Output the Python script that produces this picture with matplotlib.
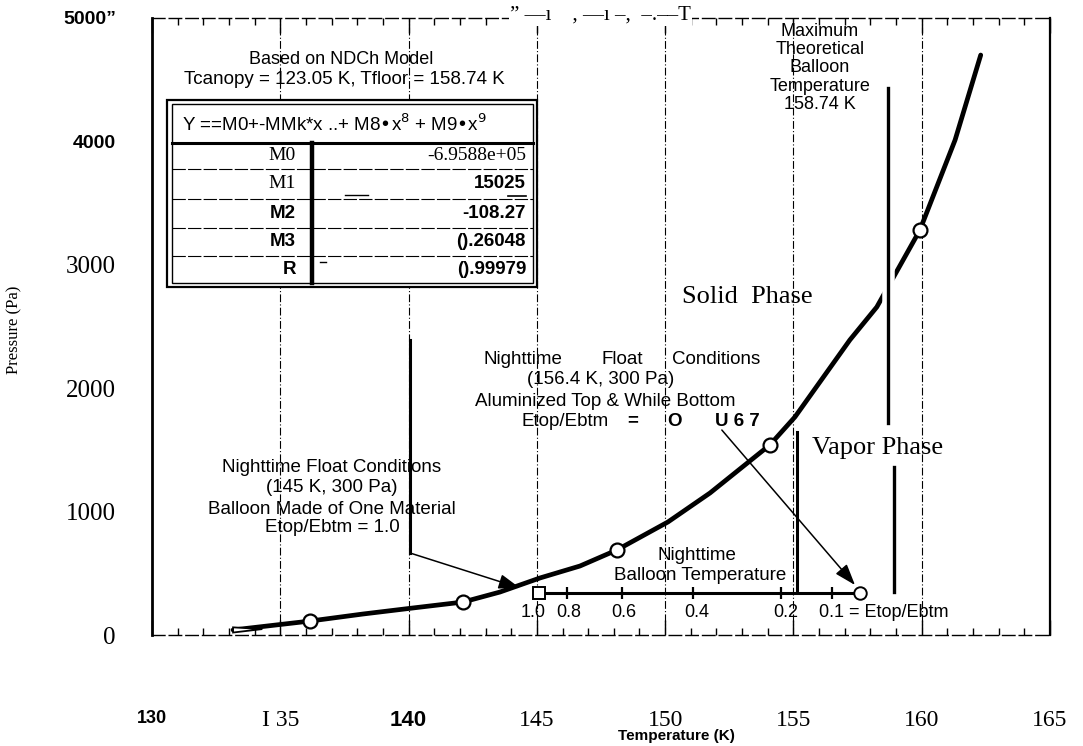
import matplotlib
matplotlib.use("Agg")
import matplotlib.pyplot as plt
import matplotlib.patheffects as pe
from matplotlib.patches import Rectangle, Polygon
from matplotlib.ticker import MultipleLocator

SERIF = "Liberation Serif"
SANS = "Liberation Sans"

# --- vapor pressure curve (K, Pa) ---
curve_T = [133.16, 136.16, 138.22, 140.17, 142.12, 143.56, 145.12, 146.68, 148.12,
           150.11, 151.75, 154.08, 155.06, 157.20, 158.25, 159.93, 161.30, 162.30]
curve_P = [41, 113, 170, 219, 267, 348, 462, 559, 689,
           916, 1151, 1540, 1767, 2391, 2658, 3282, 4011, 4700]

# measured points on the curve
meas_T = [136.16, 142.12, 148.12, 154.08, 159.93]
meas_P = [113, 267, 689, 1540, 3282]

# nighttime balloon temperature line (Etop/Ebtm scale)
float_T = [145.08, 157.59]
float_P = [340, 340]
etop_T = [146.17, 148.30, 151.10, 154.50, 156.50]
etop_lbl_T = [144.85, 146.25, 148.40, 151.25, 154.70]
etop_lbl = ["1.0", "0.8", "0.6", "0.4", "0.2"]

# axis ticks
xtick_vals = [130, 135, 140, 145, 150, 155, 160, 165]
xtick_lbls = ["130", "I 35", "140", "145", "150", "155", "160", "165"]
ytick_vals = [0, 1000, 2000, 3000, 4000, 5000]
ytick_lbls = ["0", "1000", "2000", "3000", "4000", "5000\u201d"]

# fit table
row_names = ["M0", "M1", "M2", "M3", "R"]
row_values = ["-6.9588e+05", "15025", "-108.27", "().26048", "().99979"]

# leader / phase lines (K, Pa)
lead1_T = [140.05, 140.05, 144.34]
lead1_P = [2391, 665, 381]
lead2_T = [152.21, 157.40]
lead2_P = [1661, 405]
vapor_T = [155.14, 155.14]
vapor_P = [1645, 365]
maxline_T = [158.68, 158.68]
maxline_P = [4433, 1718]
maxline2_T = [158.92, 158.92]
maxline2_P = [1361, 348]

W, H = 1083, 746
fig = plt.figure(figsize=(W / 100, H / 100), dpi=100)
ax = fig.add_axes([152 / W, 1 - 635 / H, 898 / W, 617 / H])
ax.set_xlim(130, 165)
ax.set_ylim(0, 5000)

# dash-dot grid at every 5 K
for t in range(135, 165, 5):
    ax.axvline(t, color="k", lw=0.8, ls=(0, (7, 2, 1, 2)), zorder=1)

ax.plot(curve_T, curve_P, color="k", lw=3.4, solid_capstyle="round", zorder=3)
ax.plot(meas_T, meas_P, "o", ms=10, mfc="white", mec="k", mew=1.6, zorder=4)

# small wedge at the start of the curve
ax.add_patch(Polygon([(133.16, 20), (133.16, 62), (134.3, 48)], closed=True,
                     fc="white", ec="k", lw=1.3, zorder=4))

# balloon temperature line with Etop/Ebtm scale
ax.plot(float_T, float_P, color="k", lw=2.2, zorder=3)
ax.plot(etop_T, [float_P[0]] * len(etop_T), "|", color="k", ms=8, mew=1.6, zorder=4)
ax.plot(float_T[:1], float_P[:1], "s", ms=8, mfc="white", mec="k", mew=1.4, zorder=5)
ax.plot(float_T[1:], float_P[1:], "o", ms=9, mfc="white", mec="k", mew=1.4, zorder=5)
for t, s in zip(etop_lbl_T, etop_lbl):
    ax.text(t, 180, s, ha="center", va="center", fontsize=13, family=SANS)
ax.text(156.0, 180, "0.1 = Etop/Ebtm", ha="left", va="center", fontsize=13, family=SANS)

# leaders and phase boundaries
ax.plot(lead1_T[:2], lead1_P[:2], color="k", lw=2.2, zorder=3)
ax.annotate("", xy=(lead1_T[2], lead1_P[2]), xytext=(lead1_T[1], lead1_P[1]),
            arrowprops=dict(arrowstyle="-|>,head_length=1.3,head_width=0.45",
                            color="k", lw=1.1, shrinkA=0, shrinkB=0), zorder=4)
ax.annotate("", xy=(lead2_T[1], lead2_P[1]), xytext=(lead2_T[0], lead2_P[0]),
            arrowprops=dict(arrowstyle="-|>,head_length=1.3,head_width=0.45",
                            color="k", lw=1.1, shrinkA=0, shrinkB=0), zorder=4)
ax.plot(vapor_T, vapor_P, color="k", lw=2.2, zorder=3)
ax.plot(maxline_T, maxline_P, color="k", lw=2.4, zorder=4,
        path_effects=[pe.Stroke(linewidth=9, foreground="white"), pe.Normal()])
ax.plot(maxline2_T, maxline2_P, color="k", lw=2.4, zorder=4)

# axes frame
ax.spines["left"].set_linewidth(2.0)
ax.spines["right"].set_linewidth(1.6)
for side in ("top", "bottom"):
    ax.spines[side].set_linewidth(1.0)
    ax.spines[side].set_linestyle((0, (9, 3)))

ax.xaxis.set_minor_locator(MultipleLocator(1))
ax.set_xticks(xtick_vals, xtick_lbls)
ax.tick_params(axis="x", which="both", direction="in", top=True, bottom=True, width=1.0)
ax.tick_params(axis="x", which="major", length=11, pad=54)
ax.tick_params(axis="x", which="minor", length=5)
for lab in ax.get_xticklabels():
    txt = lab.get_text()
    if txt == "130":
        lab.set_fontproperties({"family": SANS, "weight": "bold", "size": 13})
    elif txt == "140":
        lab.set_fontproperties({"family": SANS, "weight": "bold", "size": 16})
    else:
        lab.set_fontproperties({"family": SERIF, "size": 17})

ax.set_yticks(ytick_vals, ytick_lbls)
ax.tick_params(axis="y", length=0, pad=26)
for lab in ax.get_yticklabels():
    txt = lab.get_text()
    if txt.startswith("4000") or txt.startswith("5000"):
        lab.set_fontproperties({"family": SANS, "weight": "bold", "size": 14})
    else:
        lab.set_fontproperties({"family": SERIF, "size": 18})

ax.set_ylabel("Pressure (Pa)", family=SERIF, fontsize=12)
ax.yaxis.set_label_coords((22 - 152) / 898, (635 - 330) / 617)
ax.set_xlabel("Temperature (K)", family=SANS, fontsize=11, weight="bold")
ax.xaxis.set_label_coords((676 - 152) / 898, (635 - 729) / 617)

# overlay in pixel coordinates for the table and notes
ov = fig.add_axes([0, 0, 1, 1], zorder=5)
ov.set_xlim(0, W)
ov.set_ylim(H, 0)
ov.axis("off")
ov.patch.set_alpha(0)

ov.add_patch(Rectangle((167, 100), 370, 187, fc="white", ec="k", lw=1.6))
ov.add_patch(Rectangle((172, 104), 361, 179, fc="none", ec="k", lw=1.0))
ov.plot([172, 533], [143, 143], color="k", lw=2.2)
for y in (169, 199, 228, 256):
    ov.plot([172, 533], [y, y], color="k", lw=0.8, ls=(0, (12, 2)))
ov.plot([312, 312], [143, 283], color="k", lw=3.2)
ov.text(182, 124, "Y ==M0+-MMk*x ..+ M8\u2022x$^8$ + M9\u2022x$^9$", ha="left", va="center",
        fontsize=13.5, family=SANS)
row_y = [156, 184, 213, 242, 270]
for name, val, y in zip(row_names, row_values, row_y):
    if name in ("M0", "M1"):
        ov.text(296, y, name, ha="right", va="center", fontsize=14, family=SERIF)
    else:
        ov.text(296, y, name, ha="right", va="center", fontsize=13.5, family=SANS,
                weight="bold")
    if name == "M0":
        ov.text(526, y, val, ha="right", va="center", fontsize=14, family=SERIF)
    else:
        ov.text(526, y, val, ha="right", va="center", fontsize=13.5, family=SANS,
                weight="bold")
ov.plot([345, 368], [195, 195], color="k", lw=1.0)
ov.plot([508, 526], [196, 196], color="k", lw=1.2)
ov.plot([320, 326], [262, 262], color="k", lw=1.0)

ov.text(341, 60, "Based on NDCh Model", ha="center", va="center", fontsize=13, family=SANS)
ov.text(344, 80, "Tcanopy = 123.05 K, Tfloor = 158.74 K", ha="center", va="center",
        fontsize=13.5, family=SANS)

ov.text(820, 68, "Maximum\nTheoretical\nBalloon\nTemperature\n158.74 K", ha="center",
        va="center", fontsize=13, family=SANS, linespacing=1.1)

ov.text(747, 297, "Solid  Phase", ha="center", va="center", fontsize=19, family=SERIF)
ov.text(878, 448, "Vapor Phase", ha="center", va="center", fontsize=19, family=SERIF)

ann1 = ["Nighttime Float Conditions", "(145 K, 300 Pa)",
        "Balloon Made of One Material", "Etop/Ebtm = 1.0"]
for s, y in zip(ann1, [468, 488, 509, 527]):
    ov.text(332, y, s, ha="center", va="center", fontsize=13.5, family=SANS)

for s, x in zip(["Nighttime", "Float", "Conditions"], [523, 622, 716]):
    ov.text(x, 359, s, ha="center", va="center", fontsize=13.5, family=SANS)
ov.text(601, 379, "(156.4 K, 300 Pa)", ha="center", va="center", fontsize=13.5, family=SANS)
ov.text(605, 401, "Aluminized Top & While Bottom", ha="center", va="center",
        fontsize=13.5, family=SANS)
for s, x in zip(["Etop/Ebtm", "=", "O", "U 6 7"], [565, 633, 675, 737]):
    ov.text(x, 421, s, ha="center", va="center", fontsize=13.5, family=SANS,
            weight="normal" if s == "Etop/Ebtm" else "bold")

ov.text(697, 555, "Nighttime", ha="center", va="center", fontsize=13.5, family=SANS)
ov.text(700, 575, "Balloon Temperature", ha="center", va="center", fontsize=13.5,
        family=SANS)

ov.text(510, 15, "\u201d \u2014\u0131    , \u2014\u0131 \u2013,  \u2013.\u2013\u2013T", ha="left",
        va="center", fontsize=15, family=SERIF,
        bbox=dict(fc="white", ec="none", pad=1))

fig.savefig("out.png", dpi=100)
